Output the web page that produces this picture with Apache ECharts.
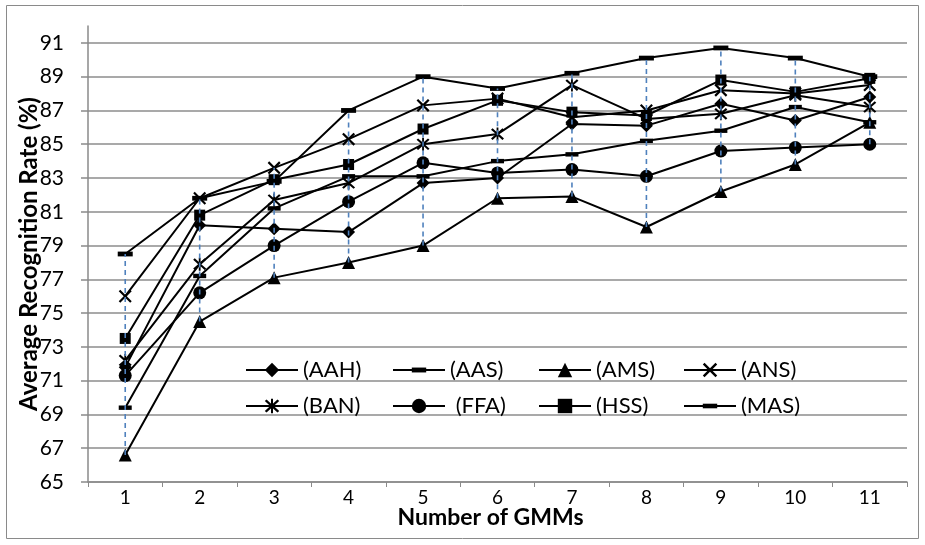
<!DOCTYPE html>
<html>
<head>
<meta charset="utf-8">
<script src="https://cdn.jsdelivr.net/npm/echarts@6/dist/echarts.min.js"></script>
<style>
html,body{margin:0;padding:0;background:#fff;}
#chart{width:925px;height:545px;}
</style>
</head>
<body>
<div id="chart"></div>
<script>
// ---- data ----
const categories = ['1','2','3','4','5','6','7','8','9','10','11'];
const seriesNames = ['(AAH)','(AAS)','(AMS)','(ANS)','(BAN)','(FFA)','(HSS)','(MAS)'];
const AAH = [71.8, 80.2, 80.0, 79.8, 82.7, 83.0, 86.2, 86.1, 87.4, 86.4, 87.8];
const AAS = [69.4, 77.2, 81.2, 83.1, 83.1, 84.0, 84.4, 85.2, 85.8, 87.2, 86.3];
const AMS = [66.6, 74.5, 77.1, 78.0, 79.0, 81.8, 81.9, 80.1, 82.2, 83.8, 86.3];
const ANS = [76.0, 81.8, 83.6, 85.3, 87.3, 87.7, 86.6, 87.0, 88.2, 88.0, 88.5];
const BAN = [72.2, 77.9, 81.7, 82.7, 85.0, 85.6, 88.5, 86.5, 86.8, 87.9, 87.2];
const FFA = [71.3, 76.2, 79.0, 81.6, 83.9, 83.3, 83.5, 83.1, 84.6, 84.8, 85.0];
const HSS = [73.5, 80.8, 82.9, 83.8, 85.9, 87.6, 86.9, 86.7, 88.8, 88.1, 88.9];
const MAS = [78.5, 81.8, 82.8, 87.0, 89.0, 88.3, 89.2, 90.1, 90.7, 90.1, 89.0];
const yMin = 65, yMax = 92, yStep = 2;

// ---- styles ----
const FONT = 'Lato';
const symX = 'path://M1.2,0 L5,3.8 L8.8,0 L10,1.2 L6.2,5 L10,8.8 L8.8,10 L5,6.2 L1.2,10 L0,8.8 L3.8,5 L0,1.2 Z';
const symAst = symX + ' M4.3,-0.6 L5.7,-0.6 L5.7,10.6 L4.3,10.6 Z';
const symBar = 'path://M0,0 M10,10 M0,3.3 L10,3.3 L10,6.7 L0,6.7 Z';
const symDash = 'path://M0,0 M10,10 M0,3.4 L10,3.4 L10,6.6 L0,6.6 Z';

const allData = [AAH, AAS, AMS, ANS, BAN, FFA, HSS, MAS];
const symbols = ['diamond', symBar, 'triangle', symX, symAst, 'circle', 'rect', symDash];
const sizes = [13, 13, 13, 13, 13, 13, 11, 15];

const series = allData.map((d, i) => ({
  name: seriesNames[i],
  type: 'line',
  data: d,
  symbol: symbols[i],
  symbolSize: sizes[i],
  showAllSymbol: true,
  lineStyle: {color: '#000', width: 2},
  itemStyle: {color: '#000'},
  emphasis: {disabled: true},
  z: 2
}));

// high-low lines computed from the series arrays
const hiLo = categories.map((c, i) => {
  const vals = allData.map(d => d[i]);
  return [i, Math.min(...vals), Math.max(...vals)];
});
series.push({
  type: 'custom',
  data: hiLo,
  z: 5,
  silent: true,
  renderItem: function (params, api) {
    const p1 = api.coord([api.value(0), api.value(1)]);
    const p2 = api.coord([api.value(0), api.value(2)]);
    return {
      type: 'line',
      shape: {x1: p1[0], y1: p1[1], x2: p2[0], y2: p2[1]},
      style: {stroke: '#4F81BD', lineWidth: 1.6, lineDash: [5, 4]}
    };
  }
});

// one legend per item so that items sit on a regular grid
const legendLeft = [240, 387, 533, 678];
const legendTop = [354, 390];
const legends = seriesNames.map((n, i) => ({
  orient: 'horizontal',
  left: legendLeft[i % 4],
  top: legendTop[Math.floor(i / 4)],
  itemWidth: 52,
  itemHeight: 18,
  selectedMode: false,
  textStyle: {fontFamily: FONT, fontSize: 22, color: '#000'},
  formatter: nm => nm === '(FFA)' ? ' ' + nm : nm,
  data: [n]
}));

const chart = echarts.init(document.getElementById('chart'), null, {renderer: 'canvas'});
chart.setOption({
  animation: false,
  backgroundColor: '#fff',
  textStyle: {fontFamily: FONT},
  grid: {left: 88, right: 18, top: 26, bottom: 63, containLabel: false},
  graphic: [{
    type: 'rect',
    shape: {x: 6.5, y: 5.5, width: 912, height: 533},
    style: {fill: 'none', stroke: '#8a8a8a', lineWidth: 1},
    silent: true
  }],
  legend: legends,
  xAxis: {
    type: 'category',
    data: categories,
    boundaryGap: true,
    name: 'Number of GMMs',
    nameLocation: 'middle',
    nameGap: 24,
    nameMoveOverlap: false,
    nameTextStyle: {fontFamily: FONT, fontSize: 23, fontWeight: 'bold', color: '#000', padding: [0, 14, 0, 0]},
    axisLine: {lineStyle: {color: '#8a8a8a', width: 1.5}},
    axisTick: {show: true, length: 5, lineStyle: {color: '#8a8a8a'}},
    axisLabel: {fontFamily: FONT, fontSize: 19, color: '#000', margin: 6}
  },
  yAxis: {
    type: 'value',
    min: yMin,
    max: yMax,
    interval: yStep,
    name: 'Average Recognition Rate (%)',
    nameLocation: 'middle',
    nameGap: 47,
    nameMoveOverlap: false,
    nameTextStyle: {fontFamily: FONT, fontSize: 24, fontWeight: 'bold', color: '#000'},
    axisLine: {show: true, lineStyle: {color: '#8a8a8a', width: 1.5}},
    axisTick: {show: true, length: 7, lineStyle: {color: '#8a8a8a', width: 1.5}},
    axisLabel: {
      fontFamily: FONT, fontSize: 21, color: '#000', margin: 24,
      showMaxLabel: false,
      formatter: v => (v === yMax ? '' : String(v))
    },
    splitLine: {show: true, showMaxLine: false, lineStyle: {color: '#8d8d8d', width: 1.5}}
  },
  series: series
});
</script>
</body>
</html>
